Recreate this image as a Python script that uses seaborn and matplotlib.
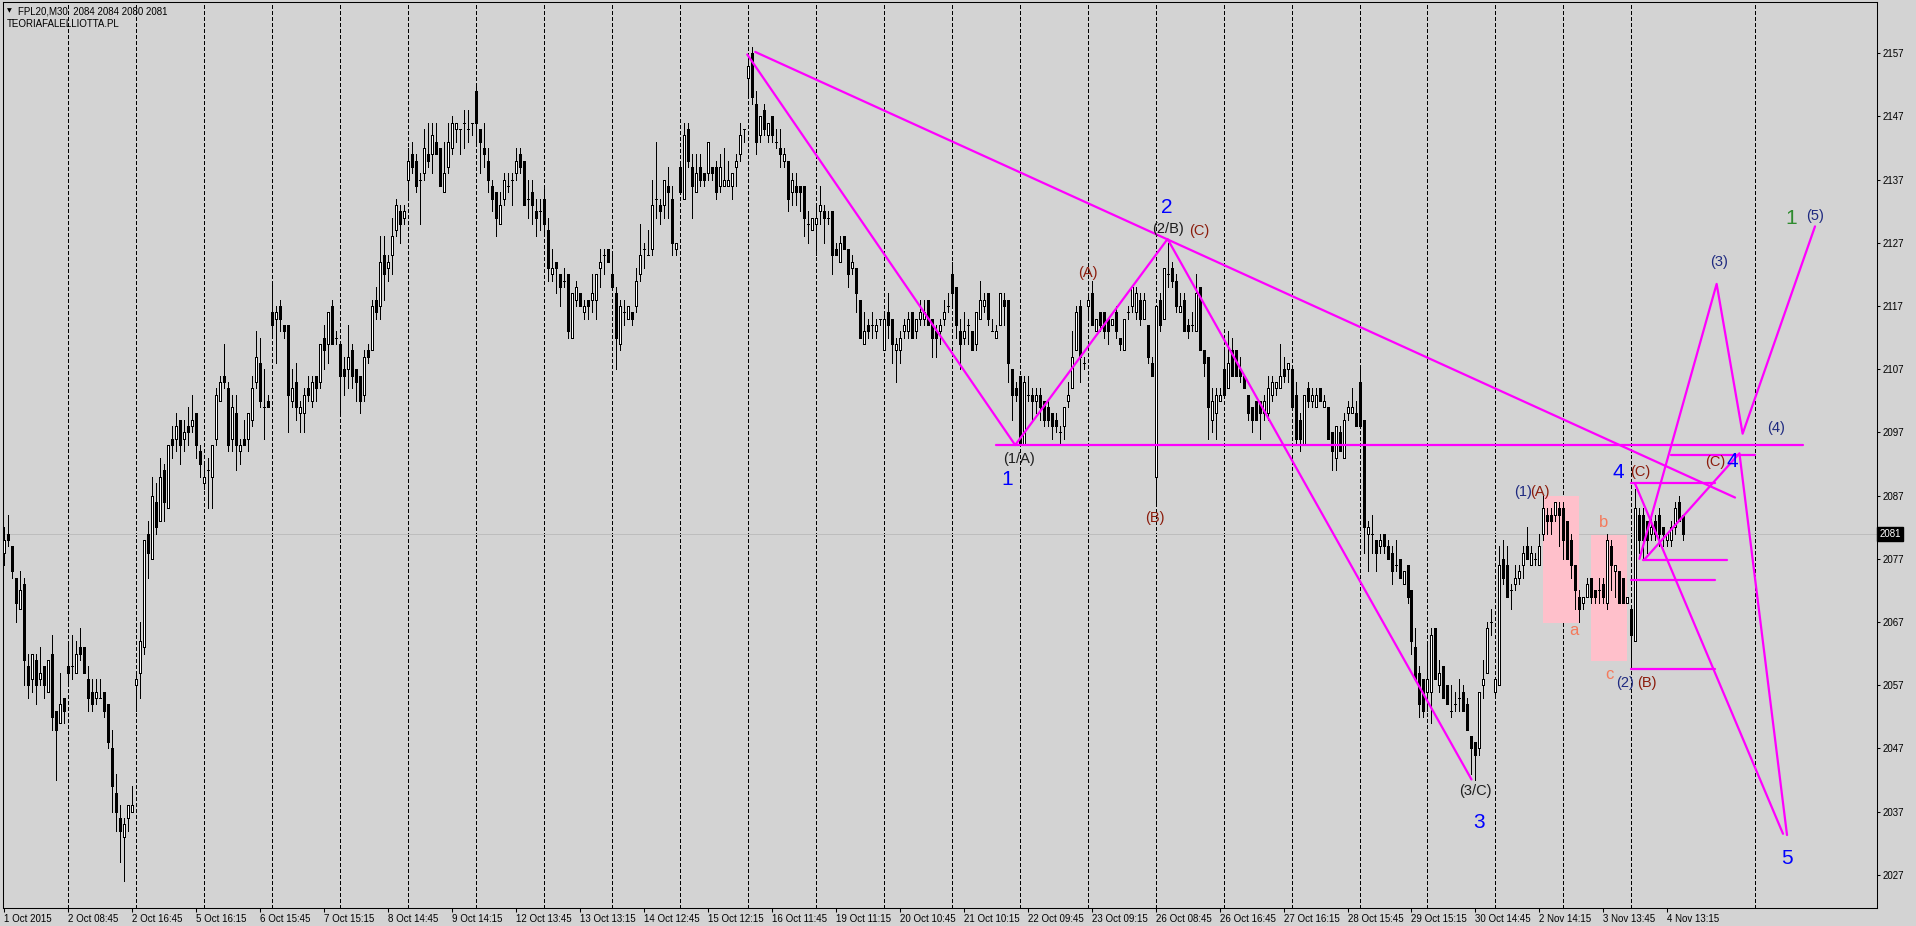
import numpy as np
import pandas as pd
import seaborn as sns
import matplotlib.pyplot as plt
import matplotlib.transforms as mtransforms
from matplotlib.patches import Rectangle

# FPL20 M30 candles, 1 Oct - 4 Nov 2015 (one value per bar)
opens = [
    2078,2081,2079,2074,2069,2073,2060,2058,2061,2058,2060,2056,2062,2053,2051,2055,2060,2060,2059,2063,
    2063,2058,2056,2055,2055,2056,2054,2047,2040,2036,2033,2036,2037,2057,2059,2063,2081,2077,2086,2083,
    2091,2085,2096,2096,2099,2096,2098,2098,2100,2094,2089,2091,2090,2096,2102,2106,2104,2096,2100,2094,
    2096,2096,2099,2105,2108,2101,2102,2116,2115,2117,2114,2114,2102,2105,2100,2100,2104,2102,2106,2105,
    2112,2111,2117,2112,2111,2107,2107,2110,2107,2106,2103,2110,2110,2118,2117,2125,2123,2125,2129,2132,
    2131,2137,2141,2140,2137,2138,2141,2141,2143,2142,2135,2139,2142,2145,2145,2146,2145,2146,2151,2145,
    2142,2140,2136,2135,2130,2134,2136,2137,2138,2141,2140,2134,2135,2132,2132,2134,2129,2122,2124,2122,
    2121,2122,2112,2118,2119,2116,2118,2118,2118,2123,2125,2126,2122,2119,2111,2116,2115,2116,2117,2122,
    2126,2125,2126,2134,2133,2133,2136,2134,2126,2139,2134,2145,2139,2135,2139,2138,2138,2139,2139,2136,
    2136,2136,2136,2139,2141,2145,2153,2157,2149,2144,2148,2144,2147,2143,2142,2140,2140,2135,2136,2136,
    2136,2130,2129,2130,2132,2132,2131,2132,2126,2124,2128,2126,2123,2123,2118,2111,2114,2114,2113,2115,
    2110,2116,2115,2110,2110,2113,2113,2116,2113,2115,2115,2118,2115,2113,2113,2115,2117,2122,2120,2113,
    2112,2114,2113,2111,2115,2117,2119,2113,2112,2114,2118,2118,2107,2104,2106,2095,2103,2103,2102,2103,
    2102,2101,2100,2099,2097,2098,2102,2104,2110,2117,2108,2117,2119,2113,2116,2116,2115,2114,2116,2112,
    2110,2116,2117,2116,2118,2115,2114,2108,2090,2118,2115,2122,2123,2121,2116,2118,2114,2114,2113,2120,
    2110,2109,2099,2100,2102,2107,2104,2110,2110,2107,2106,2103,2101,2102,2102,2100,2100,2103,2104,2104,
    2107,2107,2107,2103,2099,2095,2104,2102,2101,2104,2101,2101,2097,2093,2097,2093,2100,2100,2100,2105,
    2099,2081,2081,2080,2079,2081,2079,2078,2076,2077,2073,2076,2072,2063,2059,2058,2056,2056,2066,2057,
    2060,2057,2053,2054,2055,2056,2054,2049,2048,2047,2057,2059,2067,2056,2057,2077,2076,2072,2073,2074,
    2076,2079,2076,2077,2076,2081,2084,2084,2084,2085,2085,2083,2080,2076,2071,2070,2071,2074,2072,2072,
    2073,2070,2079,2075,2075,2074,2070,2069,2064,2084,2084,2083,2081,2083,2084,2082,2080,2080,2082,2086,2084,
]
highs = [
    2082,2084,2079,2074,2075,2074,2062,2062,2062,2063,2060,2061,2065,2053,2059,2055,2064,2065,2064,2066,
    2063,2060,2058,2058,2058,2056,2054,2050,2043,2038,2036,2038,2041,2059,2067,2080,2083,2090,2089,2093,
    2092,2095,2098,2100,2099,2099,2101,2103,2100,2095,2092,2093,2095,2104,2106,2111,2105,2103,2103,2096,
    2099,2100,2106,2113,2112,2107,2103,2121,2117,2118,2114,2114,2107,2108,2102,2104,2106,2106,2106,2111,
    2114,2116,2118,2113,2111,2109,2114,2111,2107,2106,2110,2111,2118,2120,2128,2128,2125,2131,2134,2133,
    2133,2142,2143,2141,2138,2145,2146,2146,2146,2142,2143,2146,2147,2146,2145,2148,2148,2146,2152,2145,
    2146,2142,2137,2135,2135,2138,2138,2138,2142,2142,2140,2137,2137,2134,2134,2136,2131,2126,2124,2122,
    2123,2122,2119,2121,2119,2118,2118,2122,2122,2126,2126,2126,2125,2120,2118,2118,2117,2116,2123,2130,
    2127,2129,2137,2143,2134,2137,2139,2136,2127,2140,2146,2146,2141,2141,2141,2138,2143,2139,2140,2141,
    2142,2140,2138,2141,2146,2145,2157,2158,2151,2147,2149,2146,2147,2145,2145,2142,2140,2138,2138,2136,
    2136,2132,2131,2133,2136,2133,2132,2132,2127,2128,2128,2126,2125,2123,2118,2116,2115,2116,2115,2115,
    2116,2119,2115,2112,2113,2115,2116,2116,2115,2118,2118,2118,2115,2114,2115,2118,2119,2124,2120,2115,
    2116,2115,2113,2116,2121,2119,2119,2115,2114,2119,2119,2118,2107,2105,2106,2106,2106,2104,2104,2104,
    2102,2102,2100,2100,2098,2101,2105,2113,2117,2118,2109,2119,2121,2115,2116,2116,2115,2115,2117,2112,
    2115,2117,2120,2120,2119,2119,2114,2109,2117,2119,2123,2127,2124,2122,2119,2119,2115,2116,2122,2120,
    2110,2109,2104,2104,2104,2110,2113,2112,2110,2109,2106,2103,2101,2102,2102,2103,2106,2106,2105,2111,
    2109,2108,2107,2105,2100,2103,2105,2104,2104,2104,2103,2101,2097,2098,2098,2100,2102,2104,2102,2107,
    2099,2083,2084,2080,2081,2081,2080,2079,2080,2077,2075,2076,2072,2066,2060,2058,2064,2066,2066,2061,
    2060,2057,2057,2056,2058,2057,2055,2049,2048,2056,2061,2067,2069,2058,2079,2080,2079,2073,2076,2076,
    2079,2082,2079,2078,2081,2087,2085,2085,2086,2086,2086,2083,2081,2076,2072,2071,2074,2074,2072,2074,
    2074,2081,2080,2076,2075,2074,2071,2069,2088,2085,2085,2083,2084,2084,2085,2082,2081,2083,2086,2087,2084,
]
lows = [
    2076,2079,2074,2067,2069,2057,2055,2056,2054,2057,2055,2056,2050,2042,2051,2051,2057,2058,2059,2061,
    2059,2053,2053,2054,2055,2052,2047,2037,2034,2029,2026,2034,2037,2053,2055,2062,2074,2077,2081,2083,
    2083,2085,2093,2094,2092,2094,2095,2097,2093,2090,2088,2085,2085,2095,2102,2104,2094,2094,2091,2092,
    2095,2094,2098,2104,2101,2096,2101,2112,2108,2113,2112,2097,2101,2099,2097,2097,2102,2101,2102,2104,
    2107,2108,2111,2111,2100,2103,2104,2104,2102,2100,2102,2108,2110,2115,2115,2118,2121,2122,2128,2127,
    2130,2134,2138,2135,2130,2137,2139,2138,2141,2136,2135,2138,2141,2143,2141,2142,2143,2144,2143,2138,
    2139,2135,2132,2128,2130,2133,2135,2133,2137,2138,2133,2131,2130,2128,2129,2128,2121,2121,2119,2117,
    2120,2112,2112,2117,2117,2115,2115,2116,2115,2120,2122,2124,2120,2107,2110,2114,2115,2114,2116,2121,
    2123,2125,2125,2131,2130,2131,2131,2125,2125,2135,2134,2139,2131,2135,2136,2136,2137,2137,2134,2135,
    2136,2136,2134,2136,2140,2143,2150,2149,2141,2143,2144,2143,2143,2142,2139,2139,2132,2133,2133,2132,
    2128,2127,2129,2125,2130,2127,2130,2122,2125,2124,2126,2120,2122,2116,2112,2111,2112,2112,2112,2114,
    2110,2112,2108,2105,2108,2112,2112,2112,2112,2114,2114,2114,2109,2109,2111,2114,2116,2117,2112,2107,
    2111,2111,2110,2110,2115,2116,2114,2113,2112,2114,2114,2105,2099,2102,2095,2095,2102,2099,2100,2099,
    2098,2098,2096,2097,2095,2096,2101,2104,2110,2105,2107,2115,2114,2113,2113,2112,2111,2114,2112,2110,
    2110,2115,2116,2115,2114,2115,2108,2106,2086,2113,2115,2120,2120,2116,2116,2113,2112,2113,2113,2110,
    2106,2096,2097,2096,2102,2103,2104,2106,2106,2105,2104,2099,2097,2099,2096,2099,2099,2102,2103,2104,
    2105,2105,2101,2095,2094,2095,2101,2101,2101,2102,2101,2096,2091,2091,2094,2093,2099,2100,2098,2098,
    2078,2075,2078,2075,2078,2078,2077,2073,2075,2074,2073,2070,2062,2058,2052,2052,2053,2051,2058,2056,
    2055,2054,2052,2053,2053,2053,2050,2043,2042,2046,2055,2059,2065,2055,2057,2073,2071,2069,2072,2073,
    2074,2077,2076,2076,2076,2080,2081,2081,2083,2079,2077,2077,2074,2069,2067,2069,2071,2070,2070,2070,
    2070,2069,2072,2071,2070,2070,2070,2060,2064,2078,2077,2078,2080,2080,2079,2079,2079,2079,2081,2083,2080,
]
closes = [
    2080,2080,2075,2070,2072,2061,2057,2062,2057,2059,2057,2061,2052,2050,2054,2053,2059,2060,2062,2062,
    2059,2055,2054,2056,2055,2053,2048,2041,2037,2034,2035,2038,2038,2058,2064,2080,2078,2087,2082,2090,
    2086,2095,2095,2098,2095,2097,2097,2099,2095,2092,2090,2091,2095,2103,2105,2105,2095,2101,2095,2095,
    2095,2100,2104,2109,2102,2101,2101,2114,2116,2115,2113,2103,2104,2101,2101,2103,2103,2105,2104,2111,
    2110,2116,2111,2112,2106,2106,2109,2106,2105,2102,2109,2109,2117,2116,2124,2122,2124,2128,2133,2130,
    2132,2140,2139,2136,2137,2142,2140,2144,2141,2136,2138,2143,2146,2146,2145,2146,2145,2146,2146,2143,
    2141,2137,2134,2131,2133,2137,2136,2137,2140,2139,2133,2134,2133,2131,2132,2130,2123,2123,2123,2120,
    2121,2113,2119,2120,2117,2117,2117,2119,2122,2124,2125,2124,2120,2112,2117,2116,2117,2115,2121,2125,
    2126,2125,2133,2134,2132,2137,2135,2127,2127,2135,2144,2140,2136,2138,2137,2137,2143,2138,2135,2139,
    2137,2137,2138,2140,2144,2145,2155,2150,2143,2147,2145,2146,2144,2143,2141,2141,2134,2137,2135,2135,
    2131,2130,2131,2131,2133,2131,2131,2125,2125,2127,2126,2122,2124,2119,2112,2113,2113,2114,2114,2115,
    2115,2114,2111,2111,2112,2114,2115,2112,2115,2116,2116,2114,2112,2112,2114,2116,2117,2119,2114,2111,
    2113,2114,2110,2116,2118,2118,2115,2113,2113,2119,2117,2108,2103,2103,2095,2105,2103,2102,2103,2101,
    2099,2099,2098,2098,2097,2101,2103,2109,2116,2109,2108,2118,2114,2115,2114,2113,2113,2115,2113,2111,
    2115,2116,2120,2119,2115,2118,2109,2106,2117,2114,2123,2122,2121,2117,2117,2113,2113,2114,2119,2110,
    2108,2101,2102,2103,2103,2103,2108,2106,2106,2106,2104,2100,2099,2099,2100,2102,2104,2105,2105,2106,
    2106,2108,2101,2096,2096,2103,2102,2103,2103,2102,2102,2096,2094,2098,2094,2099,2101,2101,2098,2098,
    2082,2082,2081,2078,2080,2079,2077,2075,2076,2074,2075,2071,2064,2058,2054,2053,2058,2065,2058,2059,
    2055,2054,2053,2054,2055,2053,2050,2047,2046,2056,2058,2066,2067,2058,2076,2074,2071,2072,2074,2075,
    2078,2077,2078,2077,2079,2085,2083,2083,2086,2084,2080,2077,2076,2072,2069,2071,2073,2071,2071,2072,
    2071,2080,2076,2076,2070,2070,2071,2065,2085,2080,2080,2080,2082,2081,2081,2081,2081,2082,2085,2083,2081,
]

tick_labels = ["1 Oct 2015", "2 Oct 08:45", "2 Oct 16:45", "5 Oct 16:15", "6 Oct 15:45",
               "7 Oct 15:15", "8 Oct 14:45", "9 Oct 14:15", "12 Oct 13:45", "13 Oct 13:15",
               "14 Oct 12:45", "15 Oct 12:15", "16 Oct 11:45", "19 Oct 11:15", "20 Oct 10:45",
               "21 Oct 10:15", "22 Oct 09:45", "23 Oct 09:15", "26 Oct 08:45", "26 Oct 16:45",
               "27 Oct 16:15", "28 Oct 15:45", "29 Oct 15:15", "30 Oct 14:45", "2 Nov 14:15",
               "3 Nov 13:45", "4 Nov 13:15"]
price_ticks = [2027, 2037, 2047, 2057, 2067, 2077, 2087, 2097, 2107, 2117, 2127, 2137, 2147, 2157]
last_price = 2081

# magenta wave drawings: (name, bar positions, prices)
wave_lines = [
    ("upper_trend", [187.9, 432.9], [2157.2, 2086.7]),
    ("abc_path", [185.9, 252.9, 291.0, 367.0], [2156.8, 2095.0, 2127.6, 2042.1]),
    ("support", [248.0, 450.0], [2095.0, 2095.0]),
    ("lvl_c", [407.0, 428.0], [2089.0, 2089.0]),
    ("lvl_c4", [417.0, 438.0], [2093.4, 2093.4]),
    ("lvl_low1", [410.0, 431.0], [2076.8, 2076.8]),
    ("lvl_low2", [407.0, 428.0], [2073.7, 2073.7]),
    ("lvl_2", [407.0, 428.0], [2059.5, 2059.5]),
    ("down_5a", [407.9, 444.9], [2088.9, 2033.5]),
    ("up_path", [409.0, 428.3, 434.8, 452.9], [2077.0, 2120.5, 2096.8, 2129.6]),
    ("c4_5", [410.1, 434.0, 445.9], [2076.8, 2093.7, 2033.3]),
]

# pink boxes: (bar from, bar to, price low, price high)
boxes = [(384.95, 393.9, 2066.9, 2087.0), (396.9, 405.95, 2060.9, 2080.8)]

# wave labels: (text, bar, price, kind)
wave_labels = [
    ("(1/A)", 253.9, 2092.8, "primary"), ("1", 250.8, 2089.5, "major"),
    ("(A)", 271.0, 2122.3, "inter"), ("2", 290.8, 2132.6, "major"),
    ("(2/B)", 291.0, 2129.2, "primary"), ("(C)", 299.0, 2128.9, "inter"),
    ("(B)", 287.9, 2083.5, "inter"), ("(3/C)", 368.0, 2040.2, "primary"),
    ("3", 368.8, 2035.3, "major"), ("(1)", 379.8, 2087.5, "minor"),
    ("(A)", 384.0, 2087.5, "inter"), ("a", 392.7, 2065.6, "small"),
    ("b", 400.0, 2082.7, "small"), ("c", 401.6, 2058.7, "small"),
    ("(2)", 405.4, 2057.3, "minor"), ("(B)", 410.8, 2057.3, "inter"),
    ("4", 403.7, 2090.7, "major"), ("(C)", 409.1, 2090.7, "inter"),
    ("(C)", 427.9, 2092.3, "inter"), ("4", 432.1, 2092.4, "major"),
    ("(3)", 429.0, 2124.0, "minor"), ("(4)", 443.1, 2097.7, "minor"),
    ("1", 446.9, 2130.9, "green"), ("(5)", 452.9, 2131.3, "minor"),
    ("5", 445.8, 2029.6, "major"),
]

BG = "#D3D3D3"
sns.set_theme(style="white", rc={"axes.facecolor": BG, "figure.facecolor": BG,
                                 "axes.edgecolor": "black", "axes.linewidth": 0.75})
plt.rcParams["font.family"] = ["Liberation Sans", "DejaVu Sans"]
plt.rcParams["lines.scale_dashes"] = False

W, H = 1916, 926
fig = plt.figure(figsize=(W / 100, H / 100), dpi=100)
ax = fig.add_axes([3 / W, 18 / H, 1874 / W, 906 / H])
ax.set_xlim(-0.2, 468.4)
ax.set_ylim(2021.76, 2165.1)

# dashed vertical grid
grid_bars = [16 + 17 * k for k in range(24)] + [438]
for gb in grid_bars:
    ax.axvline(gb, color="black", lw=0.72, ls=(0, (2.2, 1.5)), zorder=1, antialiased=False)

ax.axhline(last_price, color="#BDBDBD", lw=0.72, zorder=1.2, antialiased=False)

for x0, x1, lo, hi in boxes:
    ax.add_patch(Rectangle((x0, lo), x1 - x0, hi - lo, facecolor="#FFC0CB",
                           edgecolor="none", zorder=1.5))

# candles
o = np.array(opens, float)
c = np.array(closes, float)
hi_ = np.maximum(np.array(highs, float), np.maximum(o, c))
lo_ = np.minimum(np.array(lows, float), np.minimum(o, c))
x = np.arange(len(o))
ax.vlines(x, lo_, hi_, color="black", lw=0.72, zorder=3, antialiased=False)
up = c >= o
ax.bar(x[up], c[up] - o[up], bottom=o[up], width=0.5, color="white",
       edgecolor="black", linewidth=0.72, zorder=4, antialiased=False)
ax.bar(x[~up], o[~up] - c[~up], bottom=c[~up], width=0.5, color="black",
       edgecolor="black", linewidth=0.72, zorder=4, antialiased=False)

# wave lines via seaborn
rows = []
for name, bars, prices in wave_lines:
    for b, p in zip(bars, prices):
        rows.append({"seg": name, "bar": b, "price": p})
waves = pd.DataFrame(rows)
sns.lineplot(data=waves, x="bar", y="price", units="seg", estimator=None, sort=False,
             color="#FF00FF", lw=1.6, ax=ax, legend=False, zorder=5)

styles = {
    "major": dict(color="#0000FF", fontsize=15),
    "green": dict(color="#2E8B2E", fontsize=15),
    "primary": dict(color="#1E1E1E", fontsize=10.5),
    "inter": dict(color="#8B1C0C", fontsize=10.5),
    "minor": dict(color="#1F2A80", fontsize=10.5),
    "small": dict(color="#F47A5C", fontsize=12),
}
for txt, b, p, kind in wave_labels:
    ax.text(b, p, txt, ha="center", va="center", zorder=6, **styles[kind])

# axes styling
ax.set_xlabel("")
ax.set_ylabel("")
ax.yaxis.tick_right()
ax.set_yticks(price_ticks)
ax.set_yticklabels([str(v) for v in price_ticks])
ax.set_xticks([16 * i for i in range(len(tick_labels))])
ax.set_xticklabels(tick_labels, ha="left")
ax.tick_params(axis="y", direction="out", length=2.2, width=0.75, pad=2,
               labelsize=7, colors="black", right=True, left=False)
ax.tick_params(axis="x", direction="out", length=2.9, width=0.75, pad=1.2,
               labelsize=7, colors="black", bottom=True)
for s in ax.spines.values():
    s.set_color("black")
    s.set_linewidth(0.75)

trans = mtransforms.blended_transform_factory(ax.transAxes, ax.transData)
ax.text(1.0012, last_price, str(last_price), transform=trans, ha="left", va="center",
        color="white", fontsize=7, zorder=7,
        bbox=dict(facecolor="black", edgecolor="black", boxstyle="square,pad=0.2"))

fig.text(7 / W, 1 - 11 / H, "\u25BC", fontsize=4.5, va="center", ha="left",
         family=["DejaVu Sans"], color="black")
fig.text(18 / W, 1 - 11 / H, "FPL20,M30  2084 2084 2080 2081", fontsize=7,
         va="center", ha="left", color="black")
fig.text(7 / W, 1 - 24 / H, "TEORIAFALELLIOTTA.PL", fontsize=7,
         va="center", ha="left", color="black")

fig.savefig("out.png", dpi=100, facecolor=BG)
